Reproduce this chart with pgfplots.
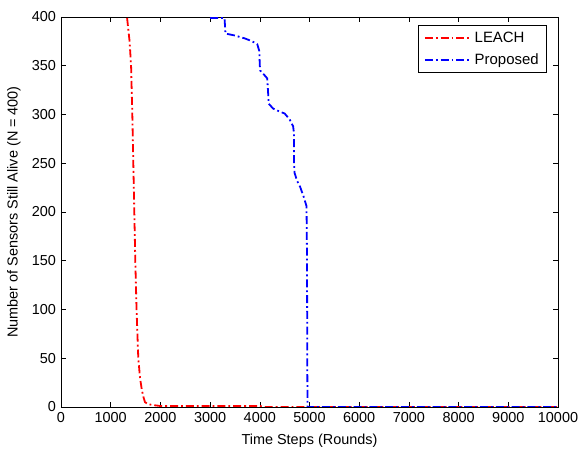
\documentclass[border=0pt]{standalone}
\usepackage{fontspec}
\setmainfont{Liberation Sans}
\usepackage{pgfplots}
\pgfplotsset{compat=1.18}
\usetikzlibrary{calc}
\begin{document}
\fontsize{14.5}{17}\selectfont
\begin{tikzpicture}
\begin{axis}[
  scale only axis,
  width=497bp, height=390bp,
  xmin=0, xmax=10000, ymin=0, ymax=400,
  xtick={0,1000,...,10000}, ytick={0,50,...,400},
  scaled x ticks=false,
  xticklabel style={/pgf/number format/1000 sep={}},
  /pgf/number format/assume math mode=true,
  tick align=inside,
  major tick length=5bp,
  tick style={black, line width=0.6pt},
  axis line style={line width=0.8pt},
  xlabel={Time Steps (Rounds)},
  ylabel={Number of Sensors Still Alive (N = 400)},
  xlabel style={at={(0.5,0)}, anchor=center, yshift=-34bp},
  ylabel style={at={(0,0.5)}, anchor=center, yshift=47bp},
  legend cell align=left,
  legend style={at={(0.978,0.979)}, anchor=north east, draw=black, line width=0.8pt,
    inner xsep=6bp, inner ysep=5bp, row sep=7bp,
    nodes={inner xsep=2bp, inner ysep=1bp, font=\fontsize{15}{17}\selectfont}},
  legend image code/.code={\draw[#1, line width=1.8pt, dash pattern=on 8bp off 3bp on 1.8bp off 3bp] (0bp,0bp) -- (47bp,0bp);},
  every axis plot/.append style={line width=1.8pt, dash pattern=on 8bp off 3bp on 1.8bp off 3bp},
]
\addplot[red] coordinates {
(1330,399) (1380,375) (1410,350) (1435,300) (1455,250) (1475,200) (1495,150)
(1520,100) (1555,50) (1590,30) (1625,18) (1660,10) (1690,5) (1750,3) (1850,2)
(2000,1) (2500,1) (3000,1) (4000,1) (4100,0) (10000,0)
};
\addlegendentry{LEACH}
\addplot[blue] coordinates {
(3000,399) (3290,399) (3310,383) (3500,381) (3700,378) (3850,375) (3950,372)
(3990,365) (4000,350) (4010,345) (4100,340) (4150,337) (4170,320) (4180,311)
(4270,306) (4400,303) (4500,301) (4600,295) (4670,288) (4690,280) (4690,250)
(4700,240) (4750,232) (4810,226) (4880,216) (4940,206) (4950,150) (4955,50)
(4960,0) (10000,0)
};
\addlegendentry{Proposed}
\end{axis}
\pgfresetboundingbox
\path[use as bounding box] ($(current axis.south west)+(-61bp,-43bp)$) rectangle ($(current axis.north east)+(21bp,17bp)$);
\end{tikzpicture}
\end{document}
